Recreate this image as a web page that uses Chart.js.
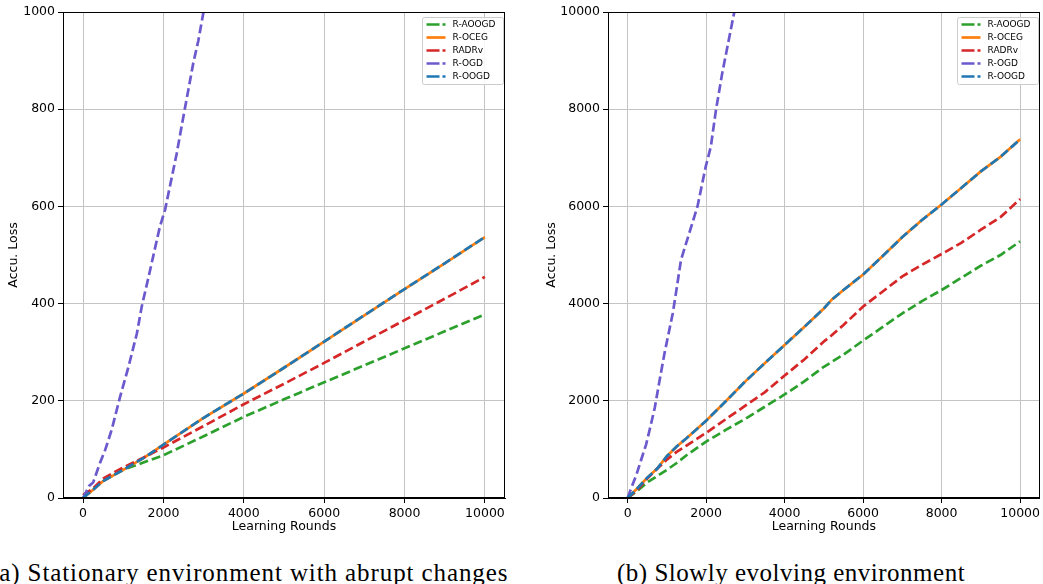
<!DOCTYPE html>
<html>
<head>
<meta charset="utf-8">
<script src="https://cdn.jsdelivr.net/npm/chart.js@4.4.0/dist/chart.umd.min.js"></script>
<style>
  html, body { margin: 0; padding: 0; background: #fff; }
  body { width: 1043px; height: 584px; position: relative; overflow: hidden; }
  canvas { position: absolute; top: 0; }
  #chartA { left: 0; }
  #chartB { left: 538px; }
  .caption { position: absolute; top: 560px; font-family: "Liberation Serif", serif; font-size: 25px; line-height: 25px; color: #000; white-space: nowrap; }
</style>
</head>
<body>
<canvas id="chartA" width="515" height="540"></canvas>
<canvas id="chartB" width="505" height="540"></canvas>
<div class="caption" style="left:-10px; letter-spacing:0.9px">(a) Stationary environment with abrupt changes</div>
<div class="caption" style="left:617px; letter-spacing:0.5px">(b) Slowly evolving environment</div>
<script>
// --- Series (same order as the legend) ---
const seriesNames = ["R-AOOGD", "R-OCEG", "RADRv", "R-OGD", "R-OOGD"];
const seriesColors = ["#2ca02c", "#ff7f0e", "#d62728", "#6a5acd", "#1f77b4"];
const seriesDashed = [true, false, true, true, true];

// --- Ticks ---
const xTicks = [0, 2000, 4000, 6000, 8000, 10000];
const yTicksA = [0, 200, 400, 600, 800, 1000];
const yTicksB = [0, 2000, 4000, 6000, 8000, 10000];

// --- (a) Stationary environment with abrupt changes ---
const roundsA = [0, 250, 500, 1000, 1500, 2000, 3000, 4000, 5000, 6000, 7000, 8000, 9000, 10000];
const aoogdA = [6, 18, 36, 58, 73, 88, 127, 167, 203, 238, 273, 308, 343, 378];
const ocegA  = [0, 17, 35, 58, 82, 110, 165, 215, 268, 322, 376, 430, 483, 537];
const radrvA = [6, 20, 40, 63, 83, 104, 148, 193, 235, 278, 322, 366, 410, 455];
const oogdA  = [0, 17, 35, 58, 82, 110, 165, 215, 268, 322, 376, 430, 483, 537];
const ogdRoundsA = [0, 150, 250, 420, 550, 710, 920, 1130, 1340, 1460, 1630, 1910, 2040, 2160, 2330, 2450, 2620, 2740, 2870, 2990, 3100];
const ogdA = [0, 25, 32, 72, 99, 140, 208, 270, 339, 394, 455, 558, 593, 641, 709, 764, 840, 894, 942, 997, 1040];

// --- (b) Slowly evolving environment ---
const roundsB = [0, 250, 500, 750, 1000, 1250, 1500, 2000, 2500, 3000, 3500, 4000, 4500, 5000, 5200, 5500, 6000, 6500, 7000, 7500, 8000, 8500, 9000, 9500, 10000];
const aoogdB = [0, 150, 320, 450, 580, 720, 880, 1160, 1400, 1630, 1880, 2130, 2400, 2700, 2800, 2950, 3240, 3520, 3800, 4050, 4280, 4530, 4780, 5000, 5280];
const ocegB  = [0, 200, 420, 600, 860, 1060, 1230, 1590, 1990, 2400, 2780, 3150, 3520, 3900, 4080, 4280, 4600, 4980, 5370, 5720, 6040, 6380, 6720, 7020, 7380];
const radrvB = [0, 170, 400, 600, 790, 950, 1080, 1340, 1620, 1900, 2180, 2520, 2850, 3220, 3350, 3560, 3940, 4250, 4560, 4800, 5020, 5250, 5520, 5780, 6150];
const oogdB  = [0, 200, 420, 600, 860, 1060, 1230, 1590, 1990, 2400, 2780, 3150, 3520, 3900, 4080, 4280, 4600, 4980, 5370, 5720, 6040, 6380, 6720, 7020, 7380];
const ogdRoundsB = [0, 100, 220, 470, 560, 690, 810, 940, 1150, 1230, 1360, 1570, 1780, 1990, 2120, 2250, 2410, 2710, 2800];
const ogdB = [0, 220, 470, 1100, 1400, 1850, 2400, 2980, 3800, 4210, 4900, 5450, 6000, 6820, 7230, 7980, 8740, 9970, 10300];

const FONT = "DejaVu Sans";

function pts(xs, ys) {
  return xs.map((x, i) => ({ x: x, y: ys[i] }));
}

// frame on all four sides + boxed legend in the upper right corner
const boxLegend = {
  id: "boxLegend",
  afterDraw(chart) {
    const { ctx, chartArea } = chart;
    const L = Math.round(chartArea.left) + 0.5, T = Math.round(chartArea.top) + 0.5;
    const R = Math.round(chartArea.right) - 0.5, B = Math.round(chartArea.bottom) - 0.5;
    ctx.save();
    ctx.strokeStyle = "#000";
    ctx.lineWidth = 1;
    ctx.strokeRect(L, T, R - L, B - T);

    const w = 81, h = 67;
    const bx = Math.round(chartArea.right) - 2 - w + 0.5, by = Math.round(chartArea.top) + 5.5;
    ctx.beginPath();
    ctx.roundRect(bx, by, w, h, 2);
    ctx.fillStyle = "rgba(255,255,255,0.85)";
    ctx.fill();
    ctx.strokeStyle = "#cccccc";
    ctx.stroke();

    ctx.font = "9px '" + FONT + "'";
    ctx.textBaseline = "middle";
    chart.data.datasets.forEach((ds, i) => {
      const yy = by + 7 + i * 13;
      ctx.beginPath();
      ctx.setLineDash(ds.borderDash.length ? [13, 3] : []);
      ctx.strokeStyle = ds.borderColor;
      ctx.lineWidth = 2.7;
      ctx.moveTo(bx + 4, yy);
      ctx.lineTo(bx + 23, yy);
      ctx.stroke();
      ctx.setLineDash([]);
      ctx.fillStyle = "#000";
      ctx.fillText(ds.label, bx + 30, yy);
    });
    ctx.restore();
  }
};

function makeChart(id, lines, yTicks, yMax, yWidth, padRight) {
  // later series are drawn on top (R-OOGD over R-OCEG)
  const datasets = lines.map((d, k) => ({
    label: seriesNames[k],
    data: pts(d[0], d[1]),
    order: lines.length - k,
    borderColor: seriesColors[k],
    backgroundColor: seriesColors[k],
    borderWidth: 2.7,
    borderDash: seriesDashed[k] ? [9, 4] : [],
    pointRadius: 0,
    fill: false,
    tension: 0
  }));

  const tickFont = { family: FONT, size: 12.5 };
  return new Chart(document.getElementById(id), {
    type: "line",
    data: { datasets: datasets },
    plugins: [boxLegend],
    options: {
      responsive: false,
      animation: false,
      layout: { padding: { top: 12, right: padRight, left: 0, bottom: 0 } },
      plugins: { legend: { display: false }, tooltip: { enabled: false } },
      scales: {
        x: {
          type: "linear",
          min: -500,
          max: 10500,
          afterBuildTicks: s => { s.ticks = xTicks.map(v => ({ value: v })); },
          afterFit: s => { s.height = 42; },
          ticks: { callback: v => String(v), font: tickFont, color: "#000", padding: 3, maxRotation: 0, autoSkip: false },
          grid: { color: "#c4c4c4", lineWidth: 1, tickColor: "#000", tickLength: 5 },
          border: { color: "#000", width: 1 },
          title: { display: true, text: "Learning Rounds", font: tickFont, color: "#000", padding: { top: 0, bottom: 6 } }
        },
        y: {
          type: "linear",
          min: 0,
          max: yMax,
          afterBuildTicks: s => { s.ticks = yTicks.map(v => ({ value: v })); },
          afterFit: s => { s.width = yWidth; },
          ticks: { callback: v => String(v), font: tickFont, color: "#000", padding: 3, autoSkip: false },
          grid: { color: "#c4c4c4", lineWidth: 1, tickColor: "#000", tickLength: 5 },
          border: { color: "#000", width: 1 },
          title: { display: true, text: "Accu. Loss", font: tickFont, color: "#000", padding: { top: 6, bottom: 0 } }
        }
      }
    }
  });
}

makeChart("chartA", [
  [roundsA, aoogdA], [roundsA, ocegA], [roundsA, radrvA], [ogdRoundsA, ogdA], [roundsA, oogdA]
], yTicksA, 1000, 63, 10);

makeChart("chartB", [
  [roundsB, aoogdB], [roundsB, ocegB], [roundsB, radrvB], [ogdRoundsB, ogdB], [roundsB, oogdB]
], yTicksB, 10000, 70, 0);
</script>
</body>
</html>
